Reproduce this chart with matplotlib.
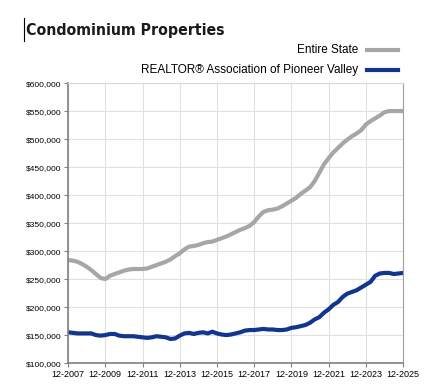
import matplotlib.pyplot as plt
from matplotlib.lines import Line2D
import numpy as np

# quarterly values, 12-2007 .. 12-2025 (median sales price, rolling 12 months)
start_year = 2007 + 11 / 12
entire_state = [284, 283, 281, 277, 272, 266, 259, 252, 250, 256, 259, 262,
                265, 267, 268, 268, 268, 269, 272, 275, 278, 281, 285, 291,
                296, 303, 308, 309, 311, 314, 316, 317, 320, 323, 326, 330,
                334, 338, 341, 345, 352, 362, 370, 373, 374, 376, 380, 385,
                390, 395, 402, 408, 414, 425, 440, 455, 466, 476, 484, 492,
                499, 505, 510, 516, 526, 532, 537, 542, 548, 550, 550, 550, 550]
pioneer_valley = [155, 154, 153, 153, 153, 153, 150, 149, 150, 152, 152, 149,
                  148, 148, 148, 147, 146, 145, 146, 148, 147, 146, 143, 144,
                  149, 153, 154, 152, 154, 155, 153, 156, 153, 151, 150, 151,
                  153, 155, 158, 159, 159, 160, 161, 160, 160, 159, 159, 160,
                  163, 164, 166, 168, 172, 178, 182, 190, 196, 204, 209, 218,
                  224, 227, 230, 235, 240, 245, 256, 260, 261, 261, 259, 260, 261]
tick_labels = ['12-2007', '12-2009', '12-2011', '12-2013', '12-2015',
               '12-2017', '12-2019', '12-2021', '12-2023', '12-2025']

years = start_year + np.arange(len(entire_state)) * 0.25
state = np.array(entire_state) * 1000
valley = np.array(pioneer_valley) * 1000

plt.rcParams['font.family'] = ['Liberation Sans', 'DejaVu Sans']

fig = plt.figure(figsize=(4.42, 3.9), dpi=100)
ax = fig.add_axes([0.154, 0.069, 0.758, 0.718])

state_color = '#A6A6A6'
valley_color = '#12358E'

ax.plot(years, state, color=state_color, lw=3, solid_capstyle='butt')
ax.plot(years, valley, color=valley_color, lw=3, solid_capstyle='butt')

ax.set_xlim(start_year, start_year + 18)
ax.set_ylim(100000, 600000)
ax.set_xticks(start_year + np.arange(0, 19, 2))
ax.set_xticklabels(tick_labels, fontsize=6.5)
ax.set_yticks(np.arange(100000, 600001, 50000))
ax.set_yticklabels(['${:,}'.format(v) for v in range(100000, 600001, 50000)],
                   fontsize=6)
ax.tick_params(axis='both', length=3, width=0.8, color='#808080', pad=2)
ax.grid(True, color='#E0E0E0', lw=0.8)
ax.set_axisbelow(True)
for side in ['left', 'bottom']:
    ax.spines[side].set_color('#808080')
    ax.spines[side].set_linewidth(1.2)
ax.spines['right'].set_color('#A0A0A0')
ax.spines['top'].set_color('#D8D8D8')

# title with the small bar in front of it
fig.text(0.058, 0.922, 'Condominium Properties', fontsize=11.3, fontweight='bold',
         family='DejaVu Sans', fontstretch='condensed', va='center',
         color='#1a1a1a')
fig.add_artist(Line2D([0.055, 0.055], [0.895, 0.953], color='black', lw=0.8))

# legend drawn at the top right
fig.text(0.81, 0.872, 'Entire State', fontsize=8.5, ha='right', va='center')
fig.add_artist(Line2D([0.83, 0.9], [0.872, 0.872], color=state_color, lw=3))
fig.text(0.81, 0.821, 'REALTOR® Association of Pioneer Valley', fontsize=8.5,
         ha='right', va='center')
fig.add_artist(Line2D([0.83, 0.9], [0.821, 0.821], color=valley_color, lw=3))

fig.savefig('out.png', dpi=100)
